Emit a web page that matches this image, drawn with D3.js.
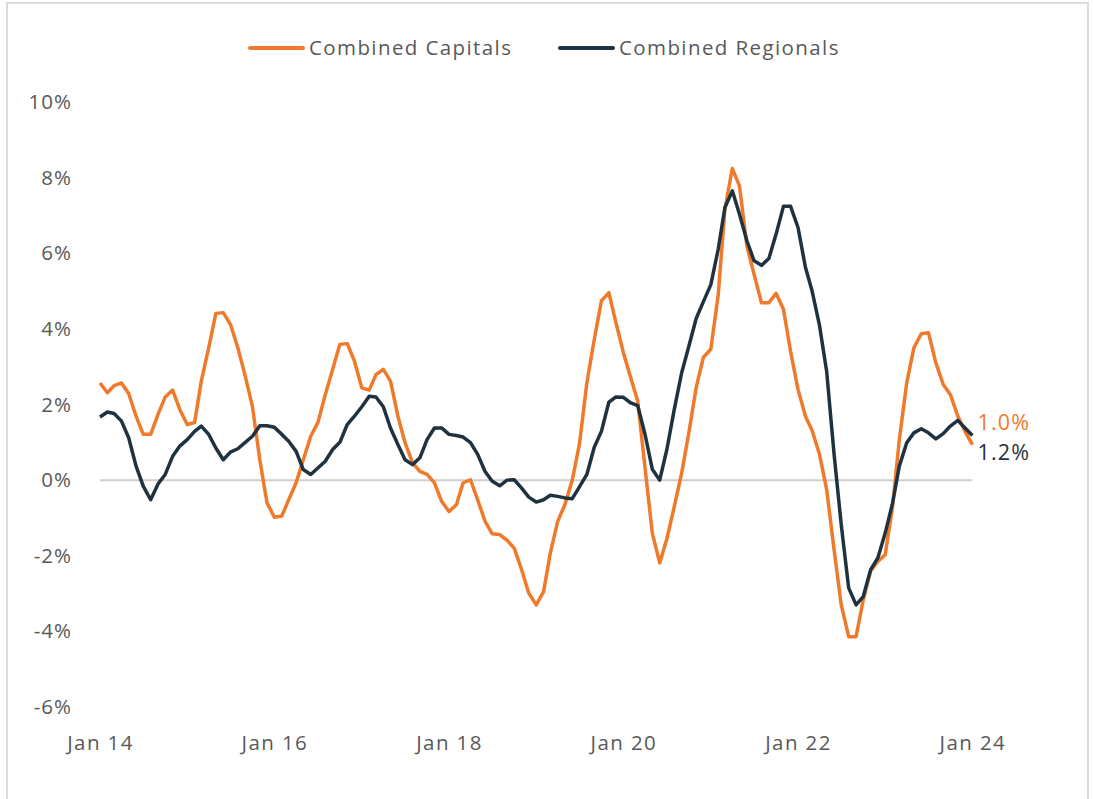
<!DOCTYPE html>
<html>
<head>
<meta charset="utf-8">
<script src="https://cdn.jsdelivr.net/npm/d3@7"></script>
<style>
  html, body { margin: 0; padding: 0; background: #fff; }
  svg { display: block; }
  text { font-family: "Open Sans", "Noto Sans", sans-serif; }
</style>
</head>
<body>
<svg id="chart" width="1093" height="799"></svg>
<script>
// ---- Data (monthly, Jan 2014 .. Jan 2024), annual % change ----
const startMonth = "2014-01";
const seriesNames = ["Combined Capitals", "Combined Regionals"];
const seriesColors = ["#f07a2b", "#1f3240"];
const capitals = [
  2.57, 2.31, 2.50, 2.57, 2.29, 1.69, 1.21, 1.21, 1.74, 2.20, 2.38, 1.87,
  1.47, 1.52, 2.62, 3.50, 4.41, 4.43, 4.12, 3.50, 2.75, 1.95, 0.54, -0.60,
  -0.98, -0.95, -0.52, -0.07, 0.54, 1.16, 1.52, 2.26, 2.93, 3.59, 3.61, 3.15,
  2.44, 2.38, 2.79, 2.93, 2.62, 1.69, 0.99, 0.46, 0.23, 0.15, -0.07, -0.56,
  -0.83, -0.65, -0.07, 0.01, -0.52, -1.09, -1.42, -1.44, -1.59, -1.80, -2.37, -2.99,
  -3.30, -2.95, -1.93, -1.09, -0.65, 0.00, 0.95, 2.57, 3.72, 4.74, 4.96, 4.16,
  3.37, 2.70, 2.09, 0.30, -1.40, -2.19, -1.55, -0.70, 0.19, 1.25, 2.46, 3.25,
  3.46, 4.90, 7.17, 8.24, 7.78, 6.19, 5.44, 4.69, 4.69, 4.94, 4.52, 3.40,
  2.40, 1.69, 1.31, 0.68, -0.25, -1.84, -3.30, -4.14, -4.14, -3.17, -2.40, -2.15,
  -1.97, -0.69, 1.07, 2.57, 3.50, 3.87, 3.90, 3.10, 2.53, 2.26, 1.69, 1.29,
  0.94
];
const regionals = [
  1.67, 1.80, 1.76, 1.56, 1.12, 0.37, -0.16, -0.52, -0.10, 0.15, 0.63, 0.90,
  1.07, 1.29, 1.43, 1.21, 0.85, 0.54, 0.74, 0.83, 1.00, 1.16, 1.44, 1.44,
  1.40, 1.21, 1.03, 0.76, 0.28, 0.15, 0.32, 0.50, 0.81, 1.00, 1.47, 1.69,
  1.94, 2.22, 2.20, 1.94, 1.38, 0.94, 0.54, 0.41, 0.59, 1.07, 1.38, 1.38,
  1.21, 1.18, 1.14, 0.99, 0.68, 0.23, -0.03, -0.15, 0.00, 0.01, -0.21, -0.45,
  -0.58, -0.52, -0.40, -0.43, -0.47, -0.49, -0.18, 0.15, 0.87, 1.29, 2.06, 2.20,
  2.19, 2.04, 1.97, 1.20, 0.29, 0.00, 0.81, 1.87, 2.84, 3.54, 4.28, 4.72,
  5.17, 6.11, 7.21, 7.65, 7.03, 6.33, 5.80, 5.68, 5.86, 6.50, 7.24, 7.24,
  6.68, 5.63, 5.00, 4.09, 2.87, 0.68, -1.18, -2.85, -3.30, -3.08, -2.37, -2.06,
  -1.40, -0.60, 0.37, 0.99, 1.25, 1.36, 1.25, 1.09, 1.23, 1.43, 1.58, 1.38,
  1.18
];
const endLabels = ["1.0%", "1.2%"];
const yTicks = [-6, -4, -2, 0, 2, 4, 6, 8, 10];
const xTickYears = [2014, 2016, 2018, 2020, 2022, 2024];

// ---- Layout ----
const svg = d3.select("#chart");
const plot = { left: 100, right: 972.4, top: 102, bottom: 707 };
const labelFont = 20.5;
const labelSpacing = "1.4px";

const parseMonth = d3.timeParse("%Y-%m");
const t0 = parseMonth(startMonth);
const dates = capitals.map((_, i) => d3.timeMonth.offset(t0, i));

const x = d3.scaleTime()
  .domain([t0, dates[dates.length - 1]])
  .range([plot.left, plot.right]);
const y = d3.scaleLinear()
  .domain([-6, 10])
  .range([plot.bottom, plot.top]);

// frame
svg.append("rect")
  .attr("x", 7).attr("y", 3)
  .attr("width", 1081).attr("height", 810)
  .attr("fill", "none").attr("stroke", "#dcdcdc").attr("stroke-width", 2);

// y axis (labels only)
const yAxis = d3.axisLeft(y).tickValues(yTicks).tickSize(0).tickPadding(0)
  .tickFormat(d => d + "%");
const yg = svg.append("g").attr("transform", "translate(72,0)").call(yAxis);
yg.select(".domain").remove();
yg.selectAll("text")
  .attr("fill", "#595959").attr("font-size", labelFont)
  .style("letter-spacing", "1px")
  .style("font-family", '"Open Sans", "Noto Sans", sans-serif');

// x axis (labels only)
const xAxis = d3.axisBottom(x)
  .tickValues(xTickYears.map(yr => new Date(yr, 0, 1)))
  .tickSize(0).tickPadding(0)
  .tickFormat(d3.timeFormat("%b %y"));
const xg = svg.append("g").attr("transform", "translate(0,735)").call(xAxis);
xg.select(".domain").remove();
xg.selectAll("text")
  .attr("fill", "#595959").attr("font-size", labelFont)
  .style("letter-spacing", labelSpacing)
  .style("font-family", '"Open Sans", "Noto Sans", sans-serif');

// zero line
svg.append("line")
  .attr("x1", plot.left).attr("x2", plot.right)
  .attr("y1", y(0)).attr("y2", y(0))
  .attr("stroke", "#cfcfcf").attr("stroke-width", 2);

// series lines
const allSeries = [capitals, regionals];
const line = d3.line()
  .x((d, i) => x(dates[i]))
  .y(d => y(d));

allSeries.forEach((vals, k) => {
  svg.append("path")
    .datum(vals)
    .attr("fill", "none")
    .attr("stroke", seriesColors[k])
    .attr("stroke-width", 3.5)
    .attr("stroke-linejoin", "round")
    .attr("stroke-linecap", "butt")
    .attr("d", line);
});

// end labels
const endY = [422, 452];
endLabels.forEach((lbl, k) => {
  svg.append("text")
    .attr("x", plot.right + 5)
    .attr("y", endY[k])
    .attr("dy", "0.35em")
    .attr("fill", seriesColors[k])
    .attr("font-size", 21.5)
    .attr("font-weight", 500)
    .style("letter-spacing", "1.2px")
    .text(lbl);
});

// legend
const legendItems = [
  { x1: 250, x2: 303, tx: 309 },
  { x1: 560, x2: 613, tx: 619 }
];
legendItems.forEach((it, k) => {
  svg.append("line")
    .attr("x1", it.x1).attr("x2", it.x2)
    .attr("y1", 48).attr("y2", 48)
    .attr("stroke", seriesColors[k]).attr("stroke-width", 4)
    .attr("stroke-linecap", "round");
  svg.append("text")
    .attr("x", it.tx).attr("y", 48).attr("dy", "0.35em")
    .attr("fill", "#595959").attr("font-size", labelFont)
    .style("letter-spacing", labelSpacing)
    .text(seriesNames[k]);
});
</script>
</body>
</html>
